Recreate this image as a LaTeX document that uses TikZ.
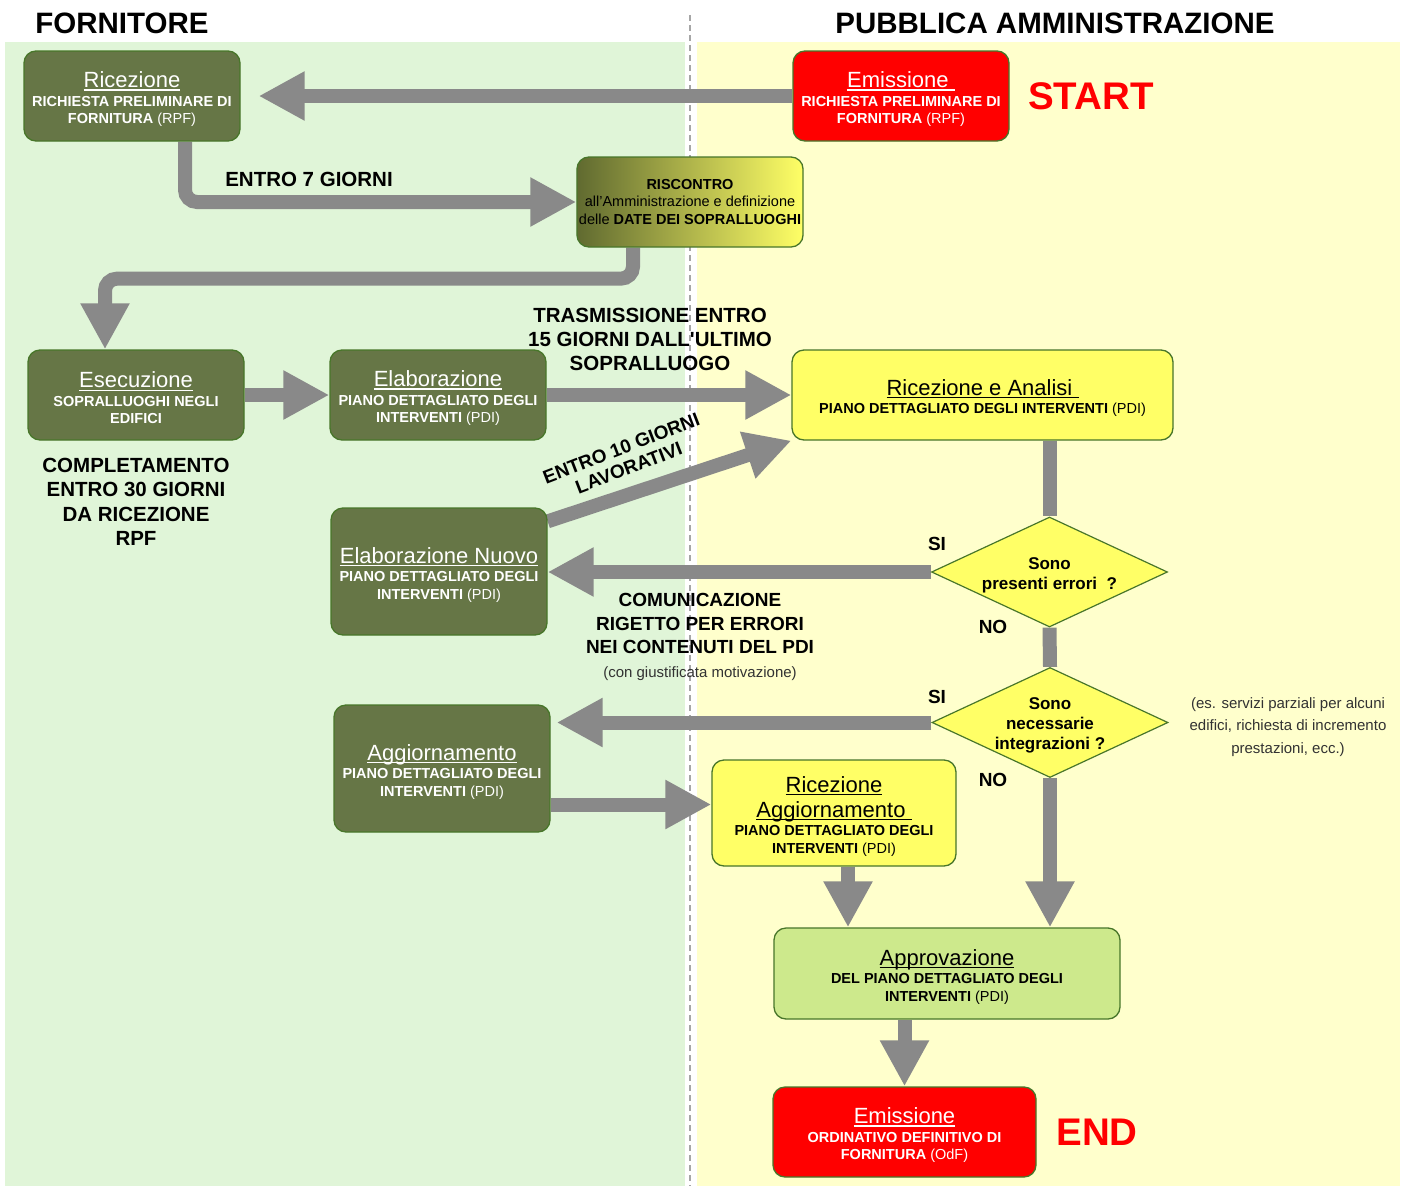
\documentclass[tikz,border=0pt]{standalone}
\usepackage{fontspec}
\setmainfont{Liberation Sans}
\usetikzlibrary{arrows.meta,shapes.geometric,backgrounds}
\definecolor{bgverde}{RGB}{224,245,216}
\definecolor{bggiallo}{RGB}{255,255,204}
\definecolor{verdescuro}{RGB}{102,118,70}
\definecolor{oliva}{RGB}{96,106,48}
\definecolor{bordo}{RGB}{72,118,42}
\definecolor{giallo}{RGB}{255,255,102}
\definecolor{verdechiaro}{RGB}{205,233,140}
\definecolor{rosso}{RGB}{255,0,0}
\definecolor{grigiofr}{RGB}{137,137,137}
\definecolor{testogrigio}{RGB}{50,50,50}
\newcommand{\sottol}[1]{\setbox0=\hbox{#1}\rlap{\rule[-3pt]{\wd0}{1.3pt}}\box0}
\newcommand{\titolo}[1]{{\fontsize{22}{26}\mdseries\selectfont\rule{0pt}{22pt}\sottol{#1}}}
\newcommand{\sigla}[1]{{\mdseries(#1)}}
\begin{document}
\begin{tikzpicture}[x=1pt,y=-1pt,
	blocco/.style={draw=bordo,line width=1.3pt,rounded corners=12pt,align=center,inner sep=2pt,font=\fontsize{14.5}{17.5}\bfseries\selectfont},
	scuro/.style={blocco,fill=verdescuro,text=white},
	chiaro/.style={blocco,fill=giallo},
	rossobox/.style={blocco,fill=rosso,text=white},
	scelta/.style={diamond,aspect=2,draw=bordo,line width=1.2pt,fill=giallo,minimum width=236pt,minimum height=110pt,inner sep=-6pt,align=center,font=\fontsize{17}{20}\bfseries\selectfont},
	etichetta/.style={align=center,inner sep=0pt,font=\fontsize{20.5}{24.5}\bfseries\selectfont},
	flusso/.style={draw=grigiofr,line width=14pt,-{Triangle[length=46pt,width=46pt]}},
	linea/.style={draw=grigiofr,line width=14pt}]
	\useasboundingbox (0,0) rectangle (1406,1186);
	\node[font=\fontsize{29.5}{32}\bfseries\selectfont] (tForn) at (122,23) {FORNITORE};
	\node[font=\fontsize{29.5}{32}\bfseries\selectfont] (tPA) at (1055,23) {PUBBLICA AMMINISTRAZIONE};
	% fornitore
	\node[scuro,minimum width=216pt,minimum height=90pt] (ricRPF) at (132,96) {\titolo{Ricezione}\\[1pt]RICHIESTA PRELIMINARE DI\\FORNITURA \sigla{RPF}};
	\node[scuro,minimum width=216pt,minimum height=90pt] (esec) at (136,395) {\titolo{Esecuzione}\\[1pt]SOPRALLUOGHI NEGLI\\EDIFICI};
	\node[scuro,minimum width=216pt,minimum height=90pt] (elab) at (438,395) {\titolo{Elaborazione}\\[1pt]PIANO DETTAGLIATO DEGLI\\INTERVENTI \sigla{PDI}};
	\node[scuro,minimum width=216pt,minimum height=127pt] (elabNuovo) at (439,571.5) {\titolo{Elaborazione Nuovo}\\[1pt]PIANO DETTAGLIATO DEGLI\\INTERVENTI \sigla{PDI}};
	\node[scuro,minimum width=216pt,minimum height=127pt] (aggio) at (442,768.5) {\titolo{Aggiornamento}\\[1pt]PIANO DETTAGLIATO DEGLI\\INTERVENTI \sigla{PDI}};
	\node[blocco,left color=oliva,right color=giallo,minimum width=226pt,minimum height=90pt] (risc) at (690,202) {RISCONTRO\\{\mdseries all'Amministrazione e definizione}\\{\mdseries delle} DATE DEI SOPRALLUOGHI};
	% pubblica amministrazione
	\node[rossobox,minimum width=216pt,minimum height=90pt] (emiRPF) at (901,96) {\titolo{Emissione\ }\\[1pt]RICHIESTA PRELIMINARE DI\\FORNITURA \sigla{RPF}};
	\node[chiaro,minimum width=381pt,minimum height=90pt] (ricAn) at (982.5,395) {\titolo{Ricezione e Analisi\ }\\[1pt]PIANO DETTAGLIATO DEGLI INTERVENTI \sigla{PDI}};
	\node[scelta] (dErr) at (1049.5,572) {\rule{0pt}{18.5pt}Sono\\presenti errori\ \ ?};
	\node[scelta] (dInt) at (1050,722.5) {\rule{0pt}{18.5pt}Sono\\necessarie\\integrazioni ?};
	\node[chiaro,minimum width=244pt,minimum height=106pt] (ricAgg) at (834,813) {\titolo{Ricezione}\\[-1pt]\titolo{Aggiornamento\ }\\[1pt]PIANO DETTAGLIATO DEGLI\\INTERVENTI \sigla{PDI}};
	\node[blocco,fill=verdechiaro,minimum width=346pt,minimum height=91pt] (appr) at (947,973.5) {\titolo{Approvazione}\\[1pt]DEL PIANO DETTAGLIATO DEGLI\\INTERVENTI \sigla{PDI}};
	\node[rossobox,minimum width=263pt,minimum height=90pt] (emiOdF) at (904.5,1132) {\titolo{Emissione}\\[1pt]ORDINATIVO DEFINITIVO DI\\FORNITURA \sigla{OdF}};
	\node[font=\fontsize{38.5}{40}\bfseries\selectfont,text=rosso] (lbStart) at (1091,96) {START};
	\node[font=\fontsize{38.5}{40}\bfseries\selectfont,text=rosso] (lbEnd) at (1097,1132) {END};
	% etichette
	\node[etichetta] (lbSette) at (309,179) {ENTRO 7 GIORNI};
	\node[etichetta,font=\fontsize{20.5}{24}\bfseries\selectfont] (lbTrasm) at (650,339) {TRASMISSIONE ENTRO\\15 GIORNI DALL\textquotesingle ULTIMO\\SOPRALLUOGO};
	\node[etichetta] (lbCompl) at (136,502) {COMPLETAMENTO\\ENTRO 30 GIORNI\\DA RICEZIONE\\RPF};
	\node[etichetta,rotate=21,font=\fontsize{19}{21}\bfseries\selectfont] (lbDieci) at (625,458) {ENTRO 10 GIORNI\\LAVORATIVI};
	\node[etichetta,font=\fontsize{19}{23.5}\bfseries\selectfont] (lbRigetto) at (700,637) {COMUNICAZIONE\\RIGETTO PER ERRORI\\NEI CONTENUTI DEL PDI\\{\fontsize{15}{18}\mdseries\selectfont\color{testogrigio}(con giustificata motivazione)}};
	\node[etichetta,font=\fontsize{19}{22}\bfseries\selectfont] (siErr) at (937,544) {SI};
	\node[etichetta,font=\fontsize{19}{22}\bfseries\selectfont] (noErr) at (993,627) {NO};
	\node[etichetta,font=\fontsize{19}{22}\bfseries\selectfont] (siInt) at (937,697) {SI};
	\node[etichetta,font=\fontsize{19}{22}\bfseries\selectfont] (noInt) at (993,780) {NO};
	\node[align=center,inner sep=0pt,text=testogrigio,font=\fontsize{15}{22.5}\selectfont] (lbNota) at (1288,727) {(es. servizi parziali per alcuni\\edifici, richiesta di incremento\\prestazioni, ecc.)};
	\begin{scope}[on background layer]
		\fill[bgverde] (5,42) rectangle (685,1186);
		\fill[bggiallo] (697,42) rectangle (1400,1186);
		\draw[gray!70,line width=1.5pt,dash pattern=on 6pt off 4pt] (690,15)--(690,1186);
		\draw[flusso,shorten >=18pt] (emiRPF.west)--(ricRPF.east);
		\draw[flusso,rounded corners=12pt] ([xshift=53pt]ricRPF.south) |- (risc.west);
		\draw[flusso,rounded corners=12pt] ([xshift=-57pt]risc.south) -- ++(0,31) -| ([xshift=-31pt]esec.north);
		\draw[flusso] (esec.east)--(elab.west);
		\draw[flusso] (elab.east)--(ricAn.west);
		\draw[flusso] ([yshift=-14pt]elabNuovo.north east)--(ricAn.south west);
		\draw[linea] (dErr.north |- ricAn.south)--(dErr.north);
		\draw[flusso] (dErr.west)--(dErr.west -| elabNuovo.east);
		\draw[linea] (dErr.south)--(dInt.north);
		\draw[flusso,shorten >=6pt] (dInt.west)--(dInt.west -| aggio.east);
		\draw[flusso] (dInt.south)--(dInt.south |- appr.north);
		\draw[flusso] ([yshift=-36pt]aggio.east) coordinate (aggOut)--(aggOut -| ricAgg.west);
		\draw[flusso] ([xshift=14pt]ricAgg.south)--([xshift=14pt]ricAgg.south |- appr.north);
		\draw[flusso] (emiOdF.north |- appr.south)--(emiOdF.north);
	\end{scope}
\end{tikzpicture}
\end{document}
